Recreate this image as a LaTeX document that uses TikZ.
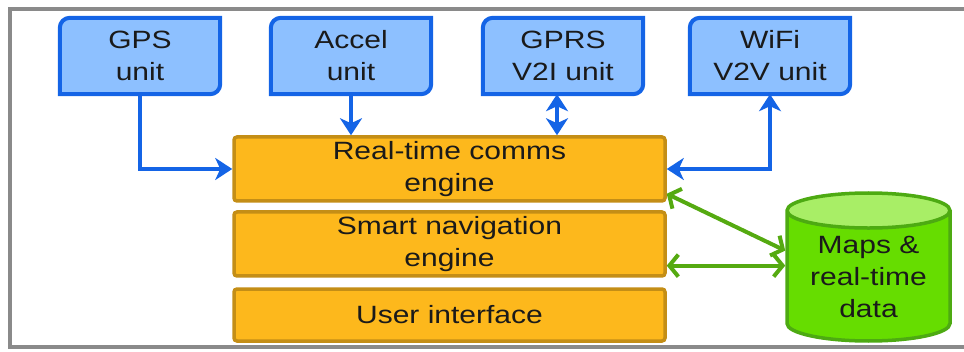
\documentclass[tikz,border=0pt]{standalone}
\usepackage{fontspec}
\setmainfont{Liberation Sans}[FakeStretch=1.2]
\usetikzlibrary{arrows.meta,shapes.geometric,backgrounds}

\definecolor{unitfill}{HTML}{8DC0FF}
\definecolor{unitline}{HTML}{1464E6}
\definecolor{enginefill}{HTML}{FDB81C}
\definecolor{engineline}{HTML}{C48E16}
\definecolor{dbfill}{HTML}{66DD00}
\definecolor{dbtop}{HTML}{A8EE66}
\definecolor{dbline}{HTML}{4DAA12}
\definecolor{dblink}{HTML}{55AA11}
\definecolor{framegray}{HTML}{8A8A8A}
\definecolor{textgray}{HTML}{1A1A1A}

\tikzset{
	unit/.style={minimum width=160pt,minimum height=76pt,align=center,inner sep=0pt},
	unitbox/.style={draw=unitline,fill=unitfill,line width=4pt},
	engine/.style={draw=engineline,fill=enginefill,line width=3.5pt,rounded corners=3pt,
		minimum width=431pt,align=center,inner sep=0pt},
	db/.style={cylinder,shape border rotate=90,draw=dbline,line width=3.5pt,
		cylinder uses custom fill,cylinder body fill=dbfill,cylinder end fill=dbtop,
		aspect=0.3,minimum width=163pt,minimum height=148pt,align=center,inner sep=0pt,
		anchor=shape center},
	bluelink/.style={draw=unitline,line width=4pt,>={Stealth[length=17pt,width=22pt,inset=5pt]}},
	greenlink/.style={draw=dblink,line width=4pt,>={Straight Barb[length=9pt,width=22pt]}}
}

\begin{document}
\begin{tikzpicture}[x=1pt,y=1pt,font=\fontsize{25}{32}\selectfont,text=textgray]
	\useasboundingbox (0,0) rectangle (964,351);
	\draw[framegray,line width=3.5pt] (964,342) -- (10,342) -- (10,4) -- (964,4);

	% sensor and radio units
	\node[unit] (gps) at (140,295) {GPS\\unit};
	\node[unit] (accel) at (351,295) {Accel\\unit};
	\node[unit] (gprs) at (563,295) {GPRS\\V2I unit};
	\node[unit] (wifi) at (770,295) {WiFi\\V2V unit};

	\begin{scope}[on background layer]
		\foreach \n in {gps,accel,gprs,wifi}
			\filldraw[unitbox] ([yshift=-10pt]\n.north west) arc[start angle=180,end angle=90,radius=10pt]
				-- (\n.north east) -- ([yshift=10pt]\n.south east) arc[start angle=0,end angle=-90,radius=10pt]
				-- (\n.south west) -- cycle;
	\end{scope}

	% engine stack
	\node[engine,minimum height=64pt] (comms) at (449.5,182) {Real-time comms\\engine};
	\node[engine,minimum height=64pt] (nav) at (449.5,107) {Smart navigation\\engine};
	\node[engine,minimum height=52pt] (ui) at (449.5,36) {User interface};

	\node[db] (db) at (868.5,84) {Maps \&\\real-time\\data};
	\coordinate (dbin) at ([yshift=11pt]db.west);

	\draw[bluelink,->] (gps.south) |- (comms.west);
	\draw[bluelink,->] (accel.south) -- (accel.south |- comms.north);
	\draw[bluelink,<->] ([xshift=-6pt]gprs.south) -- ([xshift=-6pt]gprs.south |- comms.north);
	\draw[bluelink,<->] (comms.east) -| (wifi.south);

	\draw[greenlink,<->] ([yshift=9pt]comms.south east) -- ([yshift=15pt]dbin);
	\draw[greenlink,<->] (dbin -| nav.east) -- (dbin);
\end{tikzpicture}
\end{document}
